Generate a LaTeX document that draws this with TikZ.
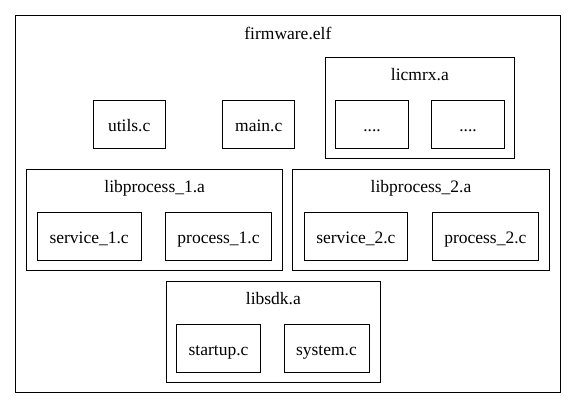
\documentclass[tikz,border=0pt]{standalone}
\usepackage{fontspec}
\setmainfont{Liberation Serif}
\begin{document}
\begin{tikzpicture}[x=1pt,y=-1pt,
  every node/.style={font=\fontsize{17.5}{20}\selectfont},
  filebox/.style={draw=black, line width=1pt, minimum height=48pt, inner sep=0pt, text height=14.8pt, text depth=0pt},
  clusterbox/.style={draw=black, line width=1pt, inner sep=0pt},
  clusterlabel/.style={anchor=base, inner sep=0pt}]
\useasboundingbox (0,0) rectangle (576,409);
% outer cluster
\node[clusterbox, minimum width=544.3pt, minimum height=377pt] (fw) at (287.85,204.2) {};
\node[clusterlabel] (fwl) at (287.85,39.3) {firmware.elf};
% top-level files
\node[filebox, minimum width=72.3pt] (utils) at (129.2,124.3) {utils.c};
\node[filebox, minimum width=72pt] (main) at (258.7,124.3) {main.c};
% licmrx
\node[clusterbox, minimum width=189.7pt, minimum height=101pt] (lic) at (419.85,108.5) {};
\node[clusterlabel] (licl) at (419.85,81) {licmrx.a};
\node[filebox, minimum width=72.6pt] (d1) at (372,124.3) {....};
\node[filebox, minimum width=72.6pt] (d2) at (468,124.3) {....};
% libprocess_1
\node[clusterbox, minimum width=256pt, minimum height=100.7pt] (lp1) at (154.7,220.35) {};
\node[clusterlabel] (lp1l) at (154.7,192.7) {libprocess\_1.a};
\node[filebox, minimum width=103.7pt] (s1) at (89.15,236.3) {service\_1.c};
\node[filebox, minimum width=106.4pt] (p1) at (218.5,236.3) {process\_1.c};
% libprocess_2
\node[clusterbox, minimum width=256.6pt, minimum height=100.7pt] (lp2) at (421,220.35) {};
\node[clusterlabel] (lp2l) at (421,192.7) {libprocess\_2.a};
\node[filebox, minimum width=103.7pt] (s2) at (355.85,236.3) {service\_2.c};
\node[filebox, minimum width=106.7pt] (p2) at (485.35,236.3) {process\_2.c};
% libsdk
\node[clusterbox, minimum width=213.3pt, minimum height=101pt] (sdk) at (273.35,332.2) {};
\node[clusterlabel] (sdkl) at (273.35,304) {libsdk.a};
\node[filebox, minimum width=83.6pt] (st) at (218.5,348) {startup.c};
\node[filebox, minimum width=85pt] (sy) at (326.5,348) {system.c};
\end{tikzpicture}
\end{document}
